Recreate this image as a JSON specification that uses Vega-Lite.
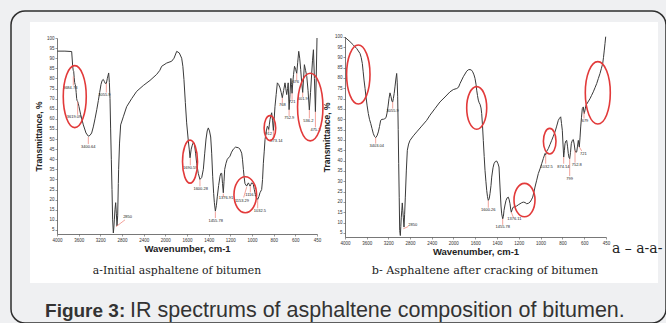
{
"$schema": "https://vega.github.io/schema/vega-lite/v6.json",
"width": 655, "height": 312,
"autosize": "none",
"padding": {"left": 11, "top": 11, "right": 0, "bottom": 0},
"background": "#eff0f2",
"config": {
 "view": {"fill": "#eff0f2", "stroke": "#2e2e2e", "strokeWidth": 1.5, "cornerRadius": 14},
 "axis": {"grid": false, "labelFont": "Liberation Sans", "labelFontSize": 4.5, "labelColor": "#333", "labelPadding": 1, "tickSize": 2, "tickWidth": 0.6, "tickColor": "#555", "domainColor": "#555", "domainWidth": 0.8, "titleFont": "Liberation Sans", "titleFontWeight": "bold", "titleColor": "#222", "labelFlush": false, "labelOverlap": false}
},
"datasets": {
 "card": [{"part": "card"}],
 "capA": [{"caption": "a-Initial asphaltene of bitumen"}],
 "capB": [{"caption": "b- Asphaltene after cracking of bitumen"}],
 "capC": [{"caption": "a – a-a-"}],
 "fig1": [{"caption": "Figure 3:"}],
 "fig2": [{"caption": "IR spectrums of asphaltene composition of bitumen."}],
 "specA": [
{"wn":4000,"t":93.5},{"wn":3850,"t":93.5},{"wn":3723,"t":93.3},{"wn":3704,"t":86},{"wn":3694,"t":84},{"wn":3685,"t":83.5},{"wn":3676,"t":80.5},{"wn":3667,"t":78},{"wn":3657,"t":77},{"wn":3648,"t":76},{"wn":3638,"t":73},{"wn":3629,"t":70},{"wn":3620,"t":69},{"wn":3610,"t":68.5},{"wn":3598,"t":67.5},{"wn":3585,"t":66},{"wn":3553,"t":62},{"wn":3503,"t":57},{"wn":3453,"t":53},{"wn":3409,"t":51.4},{"wn":3378,"t":51.8},{"wn":3346,"t":53},{"wn":3315,"t":56},{"wn":3283,"t":60},{"wn":3250,"t":64.5},{"wn":3220,"t":69},{"wn":3195,"t":73},{"wn":3170,"t":77},{"wn":3148,"t":79},{"wn":3126,"t":79.5},{"wn":3107,"t":78.5},{"wn":3088,"t":77.5},{"wn":3069,"t":77.5},{"wn":3050,"t":80},{"wn":3025,"t":82.7},{"wn":3012,"t":78},{"wn":3000,"t":70},{"wn":2988,"t":55},{"wn":2975,"t":40},{"wn":2962,"t":25},{"wn":2950,"t":10},{"wn":2937,"t":3.5},{"wn":2928,"t":6},{"wn":2918,"t":10},{"wn":2906,"t":15},{"wn":2893,"t":18.5},{"wn":2880,"t":13},{"wn":2868,"t":7},{"wn":2855,"t":12},{"wn":2843,"t":28},{"wn":2837,"t":35},{"wn":2820,"t":48},{"wn":2799,"t":57},{"wn":2749,"t":61},{"wn":2686,"t":66},{"wn":2591,"t":70},{"wn":2497,"t":73.6},{"wn":2371,"t":76.5},{"wn":2245,"t":79},{"wn":2119,"t":82},{"wn":2060,"t":84},{"wn":2025,"t":86},{"wn":1963,"t":87.6},{"wn":1913,"t":88.5},{"wn":1889,"t":90},{"wn":1862,"t":93.4},{"wn":1836,"t":92.6},{"wn":1812,"t":90},{"wn":1800,"t":86},{"wn":1789,"t":79.4},{"wn":1775,"t":68},{"wn":1762,"t":58},{"wn":1745,"t":49},{"wn":1736,"t":45},{"wn":1728,"t":40.7},{"wn":1716,"t":45},{"wn":1705,"t":47},{"wn":1695,"t":48.2},{"wn":1685,"t":48},{"wn":1672,"t":43},{"wn":1661,"t":38},{"wn":1645,"t":33},{"wn":1628,"t":30},{"wn":1610,"t":31},{"wn":1594,"t":35},{"wn":1580,"t":43},{"wn":1567,"t":50},{"wn":1555,"t":54},{"wn":1544,"t":55.5},{"wn":1532,"t":54},{"wn":1520,"t":51},{"wn":1510,"t":43},{"wn":1500,"t":31.6},{"wn":1490,"t":23},{"wn":1483,"t":18.5},{"wn":1473,"t":14.3},{"wn":1463,"t":17},{"wn":1453,"t":21.7},{"wn":1440,"t":27},{"wn":1426,"t":31.6},{"wn":1418,"t":33},{"wn":1409,"t":33},{"wn":1401,"t":28},{"wn":1393,"t":23.4},{"wn":1386,"t":29},{"wn":1379,"t":35},{"wn":1366,"t":38},{"wn":1353,"t":40},{"wn":1326,"t":41.5},{"wn":1310,"t":43.5},{"wn":1292,"t":45},{"wn":1270,"t":46},{"wn":1242,"t":45.7},{"wn":1225,"t":45},{"wn":1208,"t":43},{"wn":1200,"t":40},{"wn":1191,"t":35},{"wn":1183,"t":31},{"wn":1175,"t":28},{"wn":1158,"t":26.7},{"wn":1141,"t":28.3},{"wn":1132,"t":27.5},{"wn":1124,"t":26.7},{"wn":1116,"t":27.5},{"wn":1108,"t":28.3},{"wn":1100,"t":28.2},{"wn":1091,"t":27.5},{"wn":1081,"t":25},{"wn":1071,"t":22.6},{"wn":1060,"t":21},{"wn":1047,"t":20.1},{"wn":1035,"t":21.5},{"wn":1024,"t":23.4},{"wn":1007,"t":25},{"wn":998,"t":30},{"wn":990,"t":38},{"wn":981,"t":44},{"wn":973,"t":49.8},{"wn":960,"t":54},{"wn":950,"t":56.3},{"wn":943,"t":56},{"wn":936,"t":54.7},{"wn":930,"t":57},{"wn":923,"t":59.6},{"wn":915,"t":61.5},{"wn":906,"t":63},{"wn":897,"t":59},{"wn":889,"t":54.2},{"wn":881,"t":60},{"wn":873,"t":66},{"wn":861,"t":72},{"wn":849,"t":77.8},{"wn":836,"t":77},{"wn":822,"t":75.3},{"wn":810,"t":73},{"wn":799,"t":70.4},{"wn":786,"t":74},{"wn":772,"t":77.8},{"wn":764,"t":75},{"wn":755,"t":72},{"wn":746,"t":75},{"wn":740,"t":77.8},{"wn":731,"t":64.5},{"wn":722,"t":72},{"wn":713,"t":80},{"wn":707,"t":77},{"wn":701,"t":72.6},{"wn":694,"t":78},{"wn":686,"t":82},{"wn":676,"t":86},{"wn":665,"t":84.5},{"wn":654,"t":82.5},{"wn":644,"t":88},{"wn":634,"t":93.4},{"wn":624,"t":90},{"wn":614,"t":84.3},{"wn":604,"t":78},{"wn":594,"t":73},{"wn":585,"t":80},{"wn":577,"t":86.8},{"wn":565,"t":84},{"wn":553,"t":81},{"wn":540,"t":74},{"wn":527,"t":64.4},{"wn":515,"t":73},{"wn":503,"t":82.7},{"wn":495,"t":89},{"wn":486,"t":94.2},{"wn":476,"t":80},{"wn":466,"t":63.5},{"wn":458,"t":80},{"wn":450,"t":100}
 ],
 "specB": [
{"wn":4000,"t":99.7},{"wn":3906,"t":97.6},{"wn":3843,"t":96},{"wn":3780,"t":94.3},{"wn":3717,"t":91.9},{"wn":3695,"t":90},{"wn":3673,"t":87},{"wn":3657,"t":83},{"wn":3641,"t":79},{"wn":3622,"t":75},{"wn":3604,"t":70.9},{"wn":3582,"t":66.5},{"wn":3560,"t":62.8},{"wn":3538,"t":60},{"wn":3515,"t":58},{"wn":3490,"t":55.5},{"wn":3465,"t":53},{"wn":3440,"t":51.6},{"wn":3421,"t":51.1},{"wn":3396,"t":52},{"wn":3371,"t":53.9},{"wn":3349,"t":56.5},{"wn":3327,"t":59.5},{"wn":3302,"t":60},{"wn":3277,"t":60},{"wn":3250,"t":60.3},{"wn":3226,"t":60.8},{"wn":3207,"t":63},{"wn":3189,"t":66},{"wn":3170,"t":70},{"wn":3151,"t":72.8},{"wn":3132,"t":71},{"wn":3113,"t":68.6},{"wn":3100,"t":68.4},{"wn":3088,"t":70},{"wn":3072,"t":72.5},{"wn":3057,"t":75.7},{"wn":3040,"t":79.5},{"wn":3025,"t":82.2},{"wn":3015,"t":78},{"wn":3006,"t":70.9},{"wn":2996,"t":55},{"wn":2987,"t":38.5},{"wn":2977,"t":22},{"wn":2968,"t":6.1},{"wn":2956,"t":3.7},{"wn":2947,"t":8},{"wn":2938,"t":12.6},{"wn":2928,"t":16},{"wn":2919,"t":19.5},{"wn":2910,"t":16},{"wn":2900,"t":12.6},{"wn":2887,"t":7.8},{"wn":2875,"t":14},{"wn":2862,"t":22.3},{"wn":2843,"t":35},{"wn":2824,"t":45},{"wn":2800,"t":48},{"wn":2773,"t":49.8},{"wn":2710,"t":52},{"wn":2647,"t":53.9},{"wn":2553,"t":56.7},{"wn":2459,"t":59.5},{"wn":2396,"t":62},{"wn":2302,"t":65.2},{"wn":2208,"t":68.4},{"wn":2113,"t":70.8},{"wn":2019,"t":73.3},{"wn":1977,"t":74.4},{"wn":1943,"t":74.9},{"wn":1925,"t":75.5},{"wn":1910,"t":77.3},{"wn":1877,"t":80.6},{"wn":1843,"t":83.3},{"wn":1826,"t":84},{"wn":1810,"t":84.1},{"wn":1795,"t":83.8},{"wn":1783,"t":83},{"wn":1770,"t":81.5},{"wn":1760,"t":79.8},{"wn":1750,"t":77},{"wn":1743,"t":74.1},{"wn":1735,"t":71.5},{"wn":1727,"t":69.3},{"wn":1718,"t":68},{"wn":1710,"t":67.3},{"wn":1700,"t":65.5},{"wn":1693,"t":62.8},{"wn":1685,"t":57},{"wn":1677,"t":49.8},{"wn":1668,"t":42},{"wn":1660,"t":35.3},{"wn":1651,"t":30},{"wn":1643,"t":25.6},{"wn":1635,"t":22.5},{"wn":1627,"t":20.7},{"wn":1618,"t":21.5},{"wn":1610,"t":24},{"wn":1600,"t":28},{"wn":1593,"t":32},{"wn":1580,"t":36.5},{"wn":1570,"t":38.5},{"wn":1556,"t":39.6},{"wn":1543,"t":39.8},{"wn":1530,"t":38.5},{"wn":1520,"t":36.9},{"wn":1510,"t":27.2},{"wn":1500,"t":18},{"wn":1493,"t":14.2},{"wn":1483,"t":11.8},{"wn":1476,"t":13},{"wn":1470,"t":15.9},{"wn":1460,"t":18.5},{"wn":1450,"t":20.7},{"wn":1438,"t":22},{"wn":1427,"t":22.3},{"wn":1418,"t":21},{"wn":1410,"t":19.1},{"wn":1403,"t":16.5},{"wn":1397,"t":15},{"wn":1387,"t":16.5},{"wn":1377,"t":17.5},{"wn":1360,"t":17.8},{"wn":1343,"t":18},{"wn":1327,"t":18.6},{"wn":1310,"t":19.1},{"wn":1293,"t":19.6},{"wn":1277,"t":19.9},{"wn":1260,"t":19.7},{"wn":1243,"t":19.1},{"wn":1227,"t":19.3},{"wn":1210,"t":19.9},{"wn":1196,"t":21},{"wn":1183,"t":22.3},{"wn":1172,"t":24.5},{"wn":1160,"t":27.2},{"wn":1143,"t":30.5},{"wn":1127,"t":33.7},{"wn":1110,"t":36},{"wn":1093,"t":38.5},{"wn":1077,"t":41},{"wn":1060,"t":43.4},{"wn":1053,"t":42.8},{"wn":1043,"t":44.5},{"wn":1027,"t":45.8},{"wn":1010,"t":47.8},{"wn":993,"t":49.8},{"wn":977,"t":51.8},{"wn":960,"t":53.9},{"wn":943,"t":56.7},{"wn":927,"t":59.5},{"wn":915,"t":60.5},{"wn":903,"t":61.2},{"wn":895,"t":58},{"wn":887,"t":54.7},{"wn":880,"t":48},{"wn":873,"t":41.7},{"wn":866,"t":45},{"wn":860,"t":48.2},{"wn":851,"t":49.5},{"wn":843,"t":49.8},{"wn":835,"t":47},{"wn":827,"t":43.4},{"wn":820,"t":41.5},{"wn":813,"t":40.9},{"wn":805,"t":44},{"wn":797,"t":48.2},{"wn":787,"t":49.8},{"wn":777,"t":50.2},{"wn":768,"t":48},{"wn":760,"t":45},{"wn":752,"t":44},{"wn":743,"t":44.2},{"wn":735,"t":47},{"wn":727,"t":49.8},{"wn":722,"t":48},{"wn":717,"t":46.6},{"wn":710,"t":51},{"wn":703,"t":56.3},{"wn":695,"t":61},{"wn":687,"t":65.2},{"wn":677,"t":66},{"wn":672,"t":64},{"wn":667,"t":62.8},{"wn":658,"t":65},{"wn":650,"t":66.8},{"wn":630,"t":68.4},{"wn":610,"t":70},{"wn":594,"t":71.6},{"wn":577,"t":73.3},{"wn":560,"t":75.3},{"wn":543,"t":77.3},{"wn":527,"t":79.7},{"wn":510,"t":82.2},{"wn":497,"t":84.5},{"wn":483,"t":87},{"wn":475,"t":90},{"wn":467,"t":93.5},{"wn":460,"t":96.7},{"wn":453,"t":100}
 ],
 "peaksA": [
{"wn":3692,"t":81,"lx":3692,"lt":76.5,"tx":3752,"ty":75.1,"label":"3684.73"},
{"wn":3610,"t":68.5,"lx":3610,"lt":62,"tx":3680,"ty":60.7,"label":"3619.09"},
{"wn":3409,"t":51,"lx":3409,"lt":47.5,"tx":3409,"ty":46.3,"label":"3400.64"},
{"wn":3069,"t":77.5,"lx":3069,"lt":73,"tx":3105,"ty":71.8,"label":"3055.9"},
{"wn":2887,"t":6.6,"lx":2717,"lt":10,"tx":2668,"ty":11.5,"label":"2850"},
{"wn":1725,"t":40.5,"lx":1725,"lt":37,"tx":1725,"ty":35.6,"label":"1690.59"},
{"wn":1628,"t":30,"lx":1628,"lt":26.6,"tx":1621,"ty":25.2,"label":"1600.28"},
{"wn":1473,"t":14,"lx":1473,"lt":10.9,"tx":1470,"ty":9.6,"label":"1455.78"},
{"wn":1393,"t":23,"lx":1393,"lt":21.3,"tx":1366,"ty":20.6,"label":"1376.91"},
{"wn":1158,"t":26.2,"lx":1188,"lt":21.1,"tx":1205,"ty":19.1,"label":"1153.29"},
{"wn":1121,"t":26.6,"lx":1121,"lt":23.6,"tx":1114,"ty":22.5,"label":"1116.2"},
{"wn":1047,"t":20,"lx":1047,"lt":15.7,"tx":1024,"ty":14.4,"label":"1032.5"},
{"wn":936,"t":54.7,"lx":936,"lt":53.6,"tx":936,"ty":52.6,"label":"912"},
{"wn":889,"t":54.2,"lx":889,"lt":50.3,"tx":858,"ty":49.2,"label":"873.14"},
{"wn":799,"t":70.4,"lx":799,"lt":67.8,"tx":799,"ty":66.7,"label":"768"},
{"wn":731,"t":64.5,"lx":731,"lt":61.4,"tx":729,"ty":60.2,"label":"752.9"},
{"wn":701,"t":72.6,"lx":701,"lt":69.4,"tx":701,"ty":68.3,"label":"721"},
{"wn":654,"t":82.5,"lx":654,"lt":79.2,"tx":664,"ty":78.1,"label":"676"},
{"wn":594,"t":73,"lx":594,"lt":70.8,"tx":594,"ty":69.6,"label":"601.9"},
{"wn":527,"t":64.4,"lx":527,"lt":60.2,"tx":537,"ty":59,"label":"536.2"},
{"wn":466,"t":63.5,"lx":466,"lt":55.8,"tx":466,"ty":54.5,"label":"475.3"}
 ],
 "peaksB": [
{"wn":3421,"t":51.1,"lx":3421,"lt":48.2,"tx":3402,"ty":46.9,"label":"3403.04"},
{"wn":3100,"t":68.4,"lx":3100,"lt":65.2,"tx":3100,"ty":64.1,"label":"3055.9"},
{"wn":2899,"t":7,"lx":2805,"lt":8.1,"tx":2723,"ty":8.9,"label":"2850"},
{"wn":1627,"t":20.7,"lx":1627,"lt":17.2,"tx":1627,"ty":15.9,"label":"1600.26"},
{"wn":1483,"t":11.8,"lx":1483,"lt":8.9,"tx":1483,"ty":7.8,"label":"1455.78"},
{"wn":1397,"t":15,"lx":1377,"lt":12.6,"tx":1367,"ty":11.5,"label":"1376.11"},
{"wn":1053,"t":42.8,"lx":1053,"lt":38.5,"tx":1043,"ty":36.9,"label":"1032.5"},
{"wn":873,"t":41.7,"lx":873,"lt":38.5,"tx":877,"ty":36.9,"label":"874.14"},
{"wn":813,"t":40.9,"lx":813,"lt":32.5,"tx":813,"ty":31.2,"label":"799"},
{"wn":760,"t":45,"lx":760,"lt":39,"tx":743,"ty":37.7,"label":"752.8"},
{"wn":717,"t":46.6,"lx":693,"lt":44.7,"tx":677,"ty":43.4,"label":"721"},
{"wn":670,"t":63.5,"lx":670,"lt":60.4,"tx":660,"ty":59.2,"label":"679"}
 ],
 "ellA": [
{"id":"a1","wn":3665,"t":71},{"id":"a2","wn":1728,"t":38.8},{"id":"a3","wn":1172,"t":22.4},{"id":"a4","wn":924,"t":55.4},{"id":"a5","wn":518,"t":65.8}
 ],
 "ellB": [
{"id":"b1","wn":3749,"t":81.7},{"id":"b2","wn":1743,"t":65.5},{"id":"b3","wn":1265,"t":20.9},{"id":"b4","wn":1013,"t":49.4},{"id":"b5","wn":532,"t":72.8}
 ]
},
"layer": [
 {
  "data": {"name": "card"},
  "mark": {"type": "rect", "fill": "#ffffff"},
  "encoding": {
   "x": {"datum": 0, "type": "quantitative", "scale": {"domain": [0, 1], "range": [19, 647], "nice": false, "zero": false}, "axis": null},
   "x2": {"datum": 1},
   "y": {"datum": 0, "type": "quantitative", "scale": {"domain": [0, 1], "range": [11, 272], "nice": false, "zero": false}, "axis": null},
   "y2": {"datum": 1}
  }
 },
 {
  "layer": [
   {
    "data": {"name": "specA"},
    "mark": {"type": "line", "color": "#3a3a3a", "strokeWidth": 1},
    "encoding": {
     "x": {"field": "wn", "type": "quantitative", "scale": {"domain": [4000, 2000, 450], "range": [46, 152, 306], "nice": false, "zero": false},
      "axis": {"zindex": 2, "orient": "bottom", "offset": -89, "tickCount": 30, "labelOverlap": false, "values": [4000,3591,3182,2774,2365,1977,1758,1540,1322,1104,886,668,450], "labelExpr": "['4000','3600','3200','2800','2400','2000','1600','1400','1200','1000','800','600','450'][indexof([4000,3591,3182,2774,2365,1977,1758,1540,1322,1104,886,668,450], datum.value)]", "title": "Wavenumber, cm-1", "titleFontSize": 9.5, "titlePadding": 1.5}},
     "y": {"field": "t", "type": "quantitative", "scale": {"domain": [3, 100], "range": [223, 27], "nice": false, "zero": false},
      "axis": {"zindex": 2, "orient": "left", "offset": -46, "tickCount": 30, "labelOverlap": false, "values": [5,10,15,20,25,30,35,40,45,50,55,60,65,70,75,80,85,90,95,100], "title": "Transmittance, %", "titleFontSize": 8.5, "titlePadding": 3}}
    }
   },
   {
    "data": {"name": "peaksA"},
    "mark": {"type": "rule", "color": "#f08a80", "strokeWidth": 0.8},
    "encoding": {
     "x": {"field": "wn", "type": "quantitative", "scale": {"domain": [4000, 2000, 450], "range": [46, 152, 306], "nice": false, "zero": false}},
     "x2": {"field": "lx"},
     "y": {"field": "t", "type": "quantitative", "scale": {"domain": [3, 100], "range": [223, 27], "nice": false, "zero": false}},
     "y2": {"field": "lt"}
    }
   },
   {
    "data": {"name": "peaksA"},
    "mark": {"type": "text", "font": "Liberation Sans", "fontSize": 4, "color": "#222", "align": "center", "baseline": "middle"},
    "encoding": {
     "x": {"field": "tx", "type": "quantitative", "scale": {"domain": [4000, 2000, 450], "range": [46, 152, 306], "nice": false, "zero": false}},
     "y": {"field": "ty", "type": "quantitative", "scale": {"domain": [3, 100], "range": [223, 27], "nice": false, "zero": false}},
     "text": {"field": "label"}
    }
   },
   {
    "data": {"name": "ellA"},
    "mark": {"type": "point", "filled": false, "stroke": "#e23a3a", "strokeWidth": 1.6, "size": 4, "opacity": 1},
    "encoding": {
     "x": {"field": "wn", "type": "quantitative", "scale": {"domain": [4000, 2000, 450], "range": [46, 152, 306], "nice": false, "zero": false}},
     "y": {"field": "t", "type": "quantitative", "scale": {"domain": [3, 100], "range": [223, 27], "nice": false, "zero": false}},
     "shape": {"field": "id", "type": "nominal", "legend": null, "scale": {"domain": ["a1","a2","a3","a4","a5"], "range": [
      "M-11.5,0A11.5,31 0 1 1 11.5,0A11.5,31 0 1 1 -11.5,0Z",
      "M-7.5,0A7.5,21.5 0 1 1 7.5,0A7.5,21.5 0 1 1 -7.5,0Z",
      "M-11.3,0A11.3,18 0 1 1 11.3,0A11.3,18 0 1 1 -11.3,0Z",
      "M-5.8,0A5.8,12.5 0 1 1 5.8,0A5.8,12.5 0 1 1 -5.8,0Z",
      "M-12.7,0A12.7,33.8 0 1 1 12.7,0A12.7,33.8 0 1 1 -12.7,0Z"]}}
    }
   },
   {
    "data": {"name": "capA"},
    "mark": {"type": "text", "font": "DejaVu Serif", "fontSize": 10.8, "color": "#222", "align": "center", "baseline": "middle"},
    "encoding": {
     "x": {"datum": 1859, "type": "quantitative", "scale": {"domain": [4000, 2000, 450], "range": [46, 152, 306], "nice": false, "zero": false}},
     "y": {"datum": -15.3, "type": "quantitative", "scale": {"domain": [3, 100], "range": [223, 27], "nice": false, "zero": false}},
     "text": {"field": "caption"}
    }
   },
   {
    "data": {"name": "fig1"},
    "mark": {"type": "text", "font": "Liberation Sans", "fontSize": 19, "fontWeight": "bold", "color": "#333", "align": "left", "baseline": "middle"},
    "encoding": {
     "x": {"datum": 4226, "type": "quantitative", "scale": {"domain": [4000, 2000, 450], "range": [46, 152, 306], "nice": false, "zero": false}},
     "y": {"datum": -35.1, "type": "quantitative", "scale": {"domain": [3, 100], "range": [223, 27], "nice": false, "zero": false}},
     "text": {"field": "caption"}
    }
   },
   {
    "data": {"name": "fig2"},
    "mark": {"type": "text", "font": "Liberation Sans", "fontSize": 21.5, "color": "#333", "align": "left", "baseline": "middle"},
    "encoding": {
     "x": {"datum": 2622, "type": "quantitative", "scale": {"domain": [4000, 2000, 450], "range": [46, 152, 306], "nice": false, "zero": false}},
     "y": {"datum": -35.1, "type": "quantitative", "scale": {"domain": [3, 100], "range": [223, 27], "nice": false, "zero": false}},
     "text": {"field": "caption"}
    }
   }
  ]
 },
 {
  "layer": [
   {
    "data": {"name": "specB"},
    "mark": {"type": "line", "color": "#3a3a3a", "strokeWidth": 1},
    "encoding": {
     "x": {"field": "wn", "type": "quantitative", "scale": {"domain": [4000, 2000, 450], "range": [334, 440, 595], "nice": false, "zero": false},
      "axis": {"zindex": 2, "orient": "bottom", "offset": -86, "tickCount": 30, "labelOverlap": false, "values": [4000,3591,3182,2774,2365,1977,1758,1540,1322,1104,886,668,450], "labelExpr": "['4000','3600','3200','2800','2400','2000','1600','1400','1200','1000','800','600','450'][indexof([4000,3591,3182,2774,2365,1977,1758,1540,1322,1104,886,668,450], datum.value)]", "title": "Wavenumber, cm-1", "titleFontSize": 9.5, "titlePadding": 1.5}},
     "y": {"field": "t", "type": "quantitative", "scale": {"domain": [3, 100], "range": [226, 25.7], "nice": false, "zero": false},
      "axis": {"zindex": 2, "orient": "left", "offset": -334, "tickCount": 30, "labelOverlap": false, "values": [5,10,15,20,25,30,35,40,45,50,55,60,65,70,75,80,85,90,95,100], "title": "Transmittance, %", "titleFontSize": 8.5, "titlePadding": 3}}
    }
   },
   {
    "data": {"name": "peaksB"},
    "mark": {"type": "rule", "color": "#f08a80", "strokeWidth": 0.8},
    "encoding": {
     "x": {"field": "wn", "type": "quantitative", "scale": {"domain": [4000, 2000, 450], "range": [334, 440, 595], "nice": false, "zero": false}},
     "x2": {"field": "lx"},
     "y": {"field": "t", "type": "quantitative", "scale": {"domain": [3, 100], "range": [226, 25.7], "nice": false, "zero": false}},
     "y2": {"field": "lt"}
    }
   },
   {
    "data": {"name": "peaksB"},
    "mark": {"type": "text", "font": "Liberation Sans", "fontSize": 4, "color": "#222", "align": "center", "baseline": "middle"},
    "encoding": {
     "x": {"field": "tx", "type": "quantitative", "scale": {"domain": [4000, 2000, 450], "range": [334, 440, 595], "nice": false, "zero": false}},
     "y": {"field": "ty", "type": "quantitative", "scale": {"domain": [3, 100], "range": [226, 25.7], "nice": false, "zero": false}},
     "text": {"field": "label"}
    }
   },
   {
    "data": {"name": "ellB"},
    "mark": {"type": "point", "filled": false, "stroke": "#e23a3a", "strokeWidth": 1.6, "size": 4, "opacity": 1},
    "encoding": {
     "x": {"field": "wn", "type": "quantitative", "scale": {"domain": [4000, 2000, 450], "range": [334, 440, 595], "nice": false, "zero": false}},
     "y": {"field": "t", "type": "quantitative", "scale": {"domain": [3, 100], "range": [226, 25.7], "nice": false, "zero": false}},
     "shape": {"field": "id", "type": "nominal", "legend": null, "scale": {"domain": ["b1","b2","b3","b4","b5"], "range": [
      "M-11.7,0A11.7,29.5 0 1 1 11.7,0A11.7,29.5 0 1 1 -11.7,0Z",
      "M-10,0A10,21.3 0 1 1 10,0A10,21.3 0 1 1 -10,0Z",
      "M-10.5,0A10.5,16.7 0 1 1 10.5,0A10.5,16.7 0 1 1 -10.5,0Z",
      "M-6.3,0A6.3,12.8 0 1 1 6.3,0A6.3,12.8 0 1 1 -6.3,0Z",
      "M-12.5,0A12.5,31.2 0 1 1 12.5,0A12.5,31.2 0 1 1 -12.5,0Z"]}}
    }
   },
   {
    "data": {"name": "capB"},
    "mark": {"type": "text", "font": "DejaVu Serif", "fontSize": 11.2, "color": "#222", "align": "center", "baseline": "middle"},
    "encoding": {
     "x": {"datum": 1660, "type": "quantitative", "scale": {"domain": [4000, 2000, 450], "range": [334, 440, 595], "nice": false, "zero": false}},
     "y": {"datum": -13.4, "type": "quantitative", "scale": {"domain": [3, 100], "range": [226, 25.7], "nice": false, "zero": false}},
     "text": {"field": "caption"}
    }
   },
   {
    "data": {"name": "capC"},
    "mark": {"type": "text", "font": "DejaVu Serif", "fontSize": 14, "color": "#222", "align": "left", "baseline": "middle"},
    "encoding": {
     "x": {"datum": 390, "type": "quantitative", "scale": {"domain": [4000, 2000, 450], "range": [334, 440, 595], "nice": false, "zero": false}},
     "y": {"datum": -3, "type": "quantitative", "scale": {"domain": [3, 100], "range": [226, 25.7], "nice": false, "zero": false}},
     "text": {"field": "caption"}
    }
   }
  ]
 }
],
"resolve": {"scale": {"x": "independent", "y": "independent", "shape": "independent"}, "axis": {"x": "independent", "y": "independent"}}
}
